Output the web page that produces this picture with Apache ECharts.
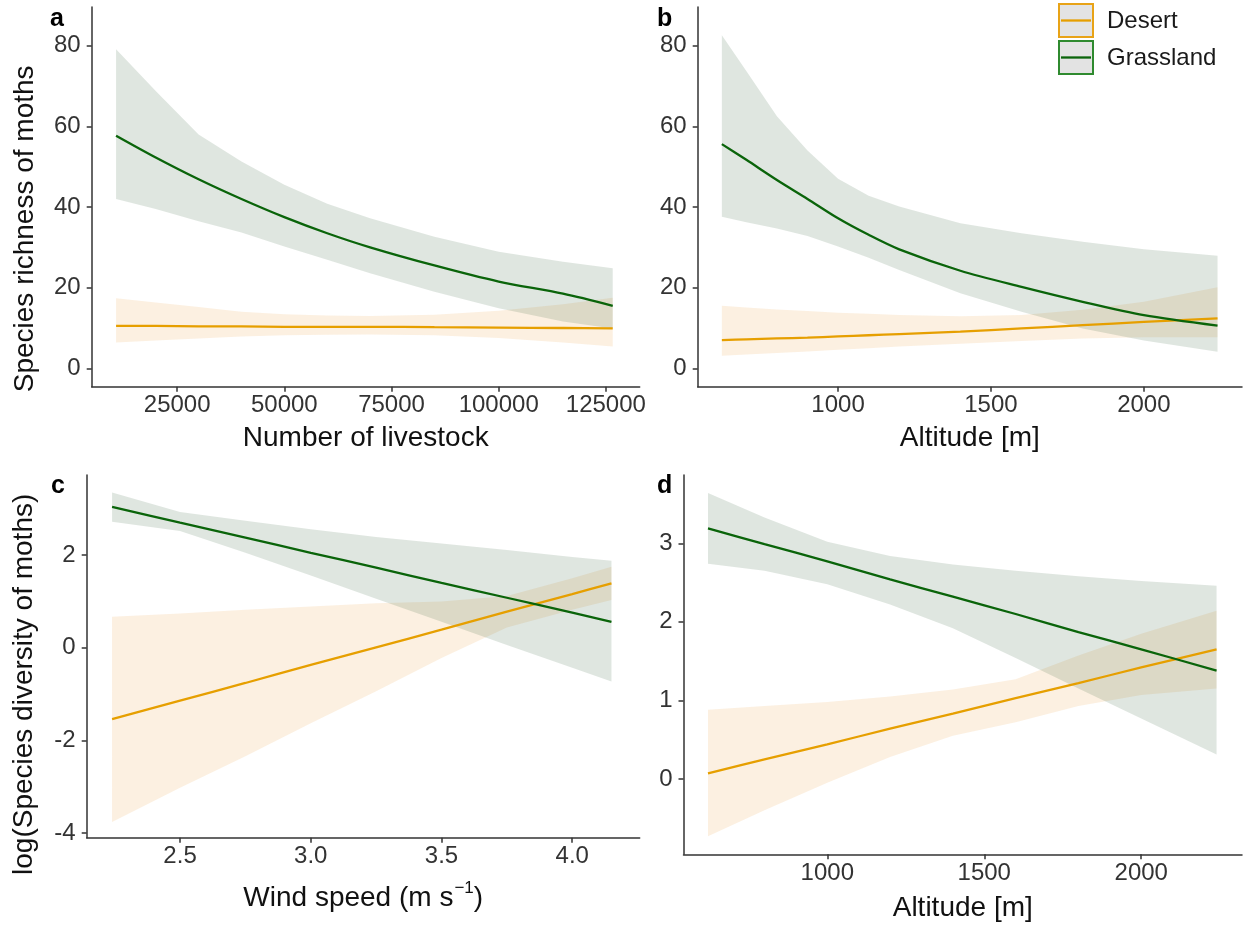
<!DOCTYPE html>
<html>
<head>
<meta charset="utf-8">
<script src="https://cdn.jsdelivr.net/npm/echarts@6/dist/echarts.min.js"></script>
<style>
html,body{margin:0;padding:0;background:#fff;}
#chart{width:1243px;height:926px;}
</style>
</head>
<body>
<div id="chart"></div>
<script>
// ---------------- DATA ----------------
const groupNames = ['Desert', 'Grassland'];
const panelLetters = ['a', 'b', 'c', 'd'];

// Panel a: species richness vs number of livestock
const livestockX = [10750, 20000, 30000, 40000, 50000, 60000, 70000, 85000, 100000, 115000, 126600];
const aGrassMean = [57.7, 52.3, 46.9, 42.0, 37.5, 33.5, 30.0, 25.5, 21.5, 18.5, 15.5];
const aGrassUp   = [79.1, 68.8, 58.0, 51.3, 45.5, 40.8, 37.2, 32.6, 28.9, 26.4, 24.8];
const aGrassLo   = [42.0, 39.5, 36.5, 33.7, 30.2, 26.9, 23.6, 19.0, 14.9, 11.6, 9.9];
const aDesMean   = [10.5, 10.5, 10.4, 10.4, 10.3, 10.3, 10.3, 10.2, 10.1, 10.0, 9.9];
const aDesUp     = [17.4, 16.3, 15.2, 14.0, 13.4, 13.1, 13.0, 13.3, 14.3, 15.9, 17.5];
const aDesLo     = [6.4, 6.9, 7.4, 7.9, 8.2, 8.3, 8.4, 8.2, 7.5, 6.4, 5.4];

// Panel b: species richness vs altitude
const altitudeXb = [620, 700, 800, 900, 1000, 1100, 1200, 1400, 1600, 1800, 2000, 2241];
const bGrassMean = [55.6, 51.7, 46.7, 42.0, 37.2, 33.1, 29.5, 24.2, 20.2, 16.5, 13.2, 10.6];
const bGrassUp   = [82.6, 73.7, 62.5, 54.0, 47.0, 42.8, 40.1, 36.0, 33.5, 31.4, 29.5, 27.9];
const bGrassLo   = [37.6, 36.2, 34.7, 32.8, 30.2, 27.4, 24.4, 18.6, 14.0, 9.9, 6.9, 4.1];
const bDesMean   = [7.0, 7.2, 7.4, 7.6, 7.9, 8.2, 8.5, 9.1, 9.9, 10.7, 11.5, 12.4];
const bDesUp     = [15.5, 15.1, 14.6, 14.2, 13.8, 13.5, 13.2, 12.9, 13.2, 14.5, 16.5, 20.1];
const bDesLo     = [3.1, 3.4, 3.8, 4.2, 4.6, 5.0, 5.4, 6.1, 6.8, 7.4, 7.7, 7.7];

// Panel c: log species diversity vs wind speed
const windX      = [2.24, 2.5, 2.75, 3.0, 3.25, 3.5, 3.75, 4.0, 4.15];
const cGrassMean = [3.04, 2.70, 2.38, 2.05, 1.73, 1.40, 1.08, 0.76, 0.56];
const cGrassUp   = [3.35, 2.93, 2.74, 2.56, 2.39, 2.25, 2.11, 1.96, 1.88];
const cGrassLo   = [2.72, 2.52, 2.05, 1.56, 1.06, 0.56, 0.06, -0.43, -0.73];
const cDesMean   = [-1.54, -1.14, -0.76, -0.37, 0.01, 0.39, 0.78, 1.16, 1.39];
const cDesUp     = [0.67, 0.74, 0.82, 0.89, 0.96, 1.00, 1.12, 1.50, 1.75];
const cDesLo     = [-3.76, -3.02, -2.34, -1.63, -0.94, -0.22, 0.44, 0.82, 1.03];

// Panel d: log species diversity vs altitude
const altitudeXd = [620, 800, 1000, 1200, 1400, 1600, 1800, 2000, 2240];
const dGrassMean = [3.19, 2.99, 2.77, 2.54, 2.32, 2.10, 1.87, 1.65, 1.38];
const dGrassUp   = [3.64, 3.33, 3.02, 2.84, 2.73, 2.65, 2.58, 2.52, 2.46];
const dGrassLo   = [2.74, 2.65, 2.48, 2.22, 1.92, 1.54, 1.15, 0.77, 0.31];
const dDesMean   = [0.07, 0.25, 0.44, 0.64, 0.83, 1.03, 1.22, 1.42, 1.65];
const dDesUp     = [0.88, 0.93, 0.98, 1.05, 1.14, 1.27, 1.57, 1.85, 2.14];
const dDesLo     = [-0.73, -0.40, -0.05, 0.28, 0.55, 0.72, 0.93, 1.07, 1.15];

// Tick values
const ticksXa = [25000, 50000, 75000, 100000, 125000];
const ticksYab = [0, 20, 40, 60, 80];
const ticksXbd = [1000, 1500, 2000];
const ticksXc = [2.5, 3.0, 3.5, 4.0];
const ticksYc = [-4, -2, 0, 2];
const ticksYd = [0, 1, 2, 3];

// Axis titles
const titleXa = 'Number of livestock';
const titleXb = 'Altitude [m]';
const titleXc = 'Wind speed (m s{sup|\u22121})';
const titleXd = 'Altitude [m]';
const titleYa = 'Species richness of moths';
const titleYc = 'log(Species diversity of moths)';

// ---------------- STYLE ----------------
const FONT = '"Liberation Sans", Arial, Helvetica, sans-serif';
const C_DES = '#E69F00';
const C_GRS = '#0a640a';
const F_DES = 'rgba(236,150,40,0.14)';
const F_GRS = 'rgba(40,90,50,0.15)';
const AX = '#333333';
const LBL = '#333333';

const grids = [
  {left: 91.7, top: 7, width: 548, height: 379.7},
  {left: 697.7, top: 7, width: 544.3, height: 379.7},
  {left: 86.7, top: 475, width: 553, height: 362.7},
  {left: 683.5, top: 475, width: 558.5, height: 379.3}
].map(g => Object.assign(g, {outerBoundsMode: 'none', containLabel: false}));

function xAxisCfg(gi, min, max, ticks, name, nameGap, fmt, lh) {
  const nts = {fontSize: 28, color: '#111', fontFamily: FONT,
    rich: {sup: {fontSize: 17, lineHeight: 17, color: '#111', fontFamily: FONT, verticalAlign: 'top', padding: [0, 0, 0, 1]}}};
  if (lh) nts.lineHeight = lh;
  return {
    type: 'value', gridIndex: gi, min: min, max: max,
    axisLine: {show: true, onZero: false, lineStyle: {color: AX, width: 1.5}},
    axisTick: {show: true, length: 5, customValues: ticks, lineStyle: {color: AX, width: 1.5}},
    axisLabel: {show: true, customValues: ticks, fontSize: 24, color: LBL, fontFamily: FONT, margin: 7,
      formatter: fmt || (v => String(v))},
    splitLine: {show: false},
    name: name, nameLocation: 'middle', nameGap: nameGap,
    nameTextStyle: nts
  };
}
function yAxisCfg(gi, min, max, ticks, name, nameGap, shift) {
  return {
    type: 'value', gridIndex: gi, min: min, max: max,
    axisLine: {show: true, onZero: false, lineStyle: {color: AX, width: 1.5}},
    axisTick: {show: true, length: 5, customValues: ticks, lineStyle: {color: AX, width: 1.5}},
    axisLabel: {show: true, customValues: ticks, fontSize: 24, color: LBL, fontFamily: FONT, margin: 11,
      formatter: v => String(v)},
    splitLine: {show: false},
    name: name || '', nameLocation: 'middle', nameGap: nameGap || 0, nameRotate: 90,
    nameTextStyle: {fontSize: 28, color: '#111', fontFamily: FONT, padding: [0, shift || 0, 0, 0]}
  };
}

function band(gi, xs, lo, hi, fill, z) {
  const data = xs.map((x, i) => [x, lo[i], hi[i]]);
  return {
    type: 'custom', xAxisIndex: gi, yAxisIndex: gi, data: data, silent: true, z: z,
    encode: {x: 0, y: [1, 2]},
    renderItem: function (params, api) {
      if (params.dataIndex !== 0) return null;
      const top = data.map(d => api.coord([d[0], d[2]]));
      const bot = data.map(d => api.coord([d[0], d[1]])).reverse();
      return {type: 'polygon', shape: {points: top.concat(bot)}, style: {fill: fill}};
    }
  };
}
function line(gi, xs, ys, color, name, z) {
  return {
    type: 'line', name: name, xAxisIndex: gi, yAxisIndex: gi, z: z,
    data: xs.map((x, i) => [x, ys[i]]),
    showSymbol: false, symbol: 'none', smooth: 0.3, silent: true,
    lineStyle: {color: color, width: 2.3}, itemStyle: {color: color}
  };
}

const panels = [
  {xs: livestockX, gm: aGrassMean, gu: aGrassUp, gl: aGrassLo, dm: aDesMean, du: aDesUp, dl: aDesLo},
  {xs: altitudeXb, gm: bGrassMean, gu: bGrassUp, gl: bGrassLo, dm: bDesMean, du: bDesUp, dl: bDesLo},
  {xs: windX, gm: cGrassMean, gu: cGrassUp, gl: cGrassLo, dm: cDesMean, du: cDesUp, dl: cDesLo},
  {xs: altitudeXd, gm: dGrassMean, gu: dGrassUp, gl: dGrassLo, dm: dDesMean, du: dDesUp, dl: dDesLo}
];

const series = [];
panels.forEach((p, gi) => {
  series.push(band(gi, p.xs, p.dl, p.du, F_DES, 1));
  series.push(band(gi, p.xs, p.gl, p.gu, F_GRS, 2));
  series.push(line(gi, p.xs, p.dm, C_DES, groupNames[0], 3));
  series.push(line(gi, p.xs, p.gm, C_GRS, groupNames[1], 4));
});

const letterPos = [[50, 19], [657, 19], [51, 486], [657, 486]];
const graphic = panelLetters.map((t, i) => ({
  type: 'text', x: letterPos[i][0], y: letterPos[i][1], silent: true,
  style: {text: t, font: 'bold 25px ' + FONT, fill: '#000', verticalAlign: 'middle', align: 'left'}
}));
// Legend keys (ggplot-style)
const legendKeys = [
  {name: groupNames[0], y: 4, border: '#E8A317', line: C_DES},
  {name: groupNames[1], y: 41, border: '#2f8a2f', line: C_GRS}
];
legendKeys.forEach(k => {
  graphic.push({type: 'rect', silent: true, shape: {x: 1059, y: k.y, width: 34, height: 33},
    style: {fill: '#e3e3e3', stroke: k.border, lineWidth: 2}});
  graphic.push({type: 'line', silent: true, shape: {x1: 1061, y1: k.y + 16.5, x2: 1091, y2: k.y + 16.5},
    style: {stroke: k.line, lineWidth: 2.3}});
  graphic.push({type: 'text', silent: true, x: 1107, y: k.y + 17,
    style: {text: k.name, font: '24px ' + FONT, fill: '#1a1a1a', verticalAlign: 'middle', align: 'left'}});
});

const option = {
  backgroundColor: '#ffffff',
  animation: false,
  grid: grids,
  xAxis: [
    xAxisCfg(0, 5065, 132890, ticksXa, titleXa, 38),
    xAxisCfg(1, 541, 2321, ticksXbd, titleXb, 38),
    xAxisCfg(2, 2.143, 4.258, ticksXc, titleXc, 42, v => Number(v).toFixed(1), 38),
    xAxisCfg(3, 542, 2321, ticksXbd, titleXd, 40)
  ],
  yAxis: [
    yAxisCfg(0, -4.56, 89.6, ticksYab, titleYa, 52, 64),
    yAxisCfg(1, -4.56, 89.6, ticksYab),
    yAxisCfg(2, -4.10, 3.73, ticksYc, titleYc, 48, 56),
    yAxisCfg(3, -0.96, 3.87, ticksYd)
  ],
  series: series,
  graphic: graphic
};

const chart = echarts.init(document.getElementById('chart'), null, {renderer: 'canvas'});
chart.setOption(option);
</script>
</body>
</html>
